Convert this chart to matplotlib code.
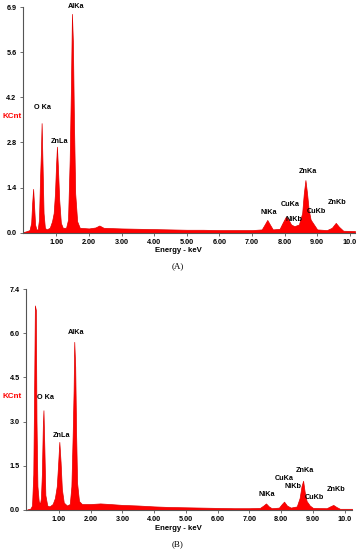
import numpy as np
import matplotlib
matplotlib.use("Agg")
from matplotlib import pyplot as plt

# spectrum A (energy keV, counts in KCnt)
energy_a = [0.0, 0.1, 0.18, 0.23, 0.26, 0.29, 0.32, 0.35, 0.39, 0.43, 0.47, 0.50, 0.53, 0.55,
            0.58, 0.61, 0.65, 0.70, 0.80, 0.87, 0.92, 0.96, 0.99, 1.02, 1.05, 1.09, 1.14,
            1.20, 1.30, 1.36, 1.41, 1.45, 1.48, 1.51, 1.54, 1.58, 1.64, 1.72, 2.0, 2.2,
            2.32, 2.45, 2.7, 3.0, 3.5, 4.0, 4.5, 5.0, 5.5, 6.0, 6.5, 7.0, 7.3, 7.39, 7.47,
            7.55, 7.64, 7.85, 7.94, 8.04, 8.12, 8.20, 8.30, 8.44, 8.54, 8.59, 8.64, 8.69,
            8.74, 8.80, 8.90, 9.0, 9.3, 9.45, 9.57, 9.67, 9.8, 10.16]
counts_a = [0.02, 0.05, 0.08, 0.3, 0.9, 1.34, 0.8, 0.25, 0.1, 0.1, 0.4, 1.6, 2.5, 3.35,
            2.0, 0.6, 0.15, 0.1, 0.15, 0.35, 0.6, 1.2, 2.0, 2.63, 2.0, 1.0, 0.3,
            0.15, 0.15, 0.4, 2.2, 4.5, 6.69, 5.8, 3.5, 1.2, 0.35, 0.15, 0.13, 0.16,
            0.22, 0.15, 0.14, 0.13, 0.12, 0.11, 0.10, 0.09, 0.09, 0.08, 0.08, 0.08, 0.10, 0.25, 0.39,
            0.25, 0.10, 0.12, 0.30, 0.49, 0.40, 0.25, 0.20, 0.25, 0.60, 1.2, 1.61, 1.2,
            0.7, 0.4, 0.25, 0.10, 0.08, 0.15, 0.30, 0.18, 0.06, 0.05]

# spectrum B
energy_b = [0.0, 0.1, 0.15, 0.19, 0.22, 0.24, 0.27, 0.29, 0.32, 0.36, 0.40, 0.43, 0.46, 0.49,
            0.51, 0.54, 0.57, 0.63, 0.70, 0.80, 0.87, 0.93, 0.97, 1.01, 1.05, 1.09, 1.15,
            1.25, 1.34, 1.39, 1.43, 1.46, 1.48, 1.51, 1.54, 1.57, 1.63, 1.72, 2.0, 2.3,
            2.6, 3.0, 3.5, 4.0, 4.5, 5.0, 5.5, 6.0, 6.5, 7.0, 7.33, 7.44, 7.52, 7.61, 7.7,
            7.93, 8.02, 8.09, 8.18, 8.3, 8.49, 8.58, 8.64, 8.69, 8.74, 8.80, 8.9, 9.0,
            9.43, 9.54, 9.64, 9.74, 9.85, 10.23]
counts_b = [0.02, 0.05, 0.15, 1.2, 4.4, 6.85, 6.7, 3.0, 0.8, 0.3, 0.2, 0.4, 1.2, 2.8,
            3.34, 2.0, 0.5, 0.15, 0.12, 0.2, 0.4, 0.8, 1.5, 2.28, 1.6, 0.7, 0.25,
            0.15, 0.2, 0.8, 2.5, 4.0, 5.63, 4.8, 2.5, 0.9, 0.3, 0.2, 0.2, 0.22,
            0.2, 0.17, 0.15, 0.12, 0.10, 0.09, 0.08, 0.07, 0.06, 0.06, 0.07, 0.15, 0.22, 0.12, 0.06,
            0.08, 0.2, 0.28, 0.15, 0.08, 0.12, 0.4, 0.8, 0.98, 0.6, 0.3, 0.15, 0.07,
            0.06, 0.12, 0.17, 0.10, 0.04, 0.04]

xticks = [1, 2, 3, 4, 5, 6, 7, 8, 9, 10]
xtick_labels = ["1.00", "2.00", "3.00", "4.00", "5.00", "6.00", "7.00", "8.00", "9.00", "10.0"]
ytick_labels_a = ["0.0", "1.4", "2.8", "4.2", "5.6", "6.9"]
ytick_labels_b = ["0.0", "1.5", "3.0", "4.5", "6.0", "7.4"]

lines = ["O Ka", "AlKa", "ZnLa", "NiKa", "CuKa", "NiKb", "ZnKa", "CuKb", "ZnKb"]
label_pos_a = [(0.58, 3.82), (1.60, 6.91), (1.09, 2.78), (7.50, 0.61), (8.18, 0.87),
               (8.30, 0.39), (8.71, 1.87), (8.98, 0.64), (9.62, 0.93)]
label_pos_b = [(0.56, 3.77), (1.54, 5.96), (1.09, 2.49), (7.56, 0.52), (8.10, 1.06),
               (8.38, 0.80), (8.75, 1.31), (9.03, 0.41), (9.73, 0.67)]

W, H = 357, 550
plt.rcParams['font.family'] = ['Liberation Sans', 'DejaVu Sans']
fig = plt.figure(figsize=(W / 100, H / 100), dpi=100)


def px(x0, y0, x1, y1):
	# pixel box (left, top, right, bottom) -> figure fraction rect
	return [x0 / W, 1 - y1 / H, (x1 - x0) / W, (y1 - y0) / H]


def panel(rect, energy, counts, ymax, ylabels, xmin, xmax, label_pos):
	ax = fig.add_axes(rect)
	ax.fill_between(energy, counts, 0, color='#ff0000', lw=0.5, edgecolor='#e00000')
	ax.set_xlim(xmin, xmax)
	ax.set_ylim(0, ymax)
	ax.set_yticks(np.linspace(0, ymax, 6))
	ax.set_yticklabels(ylabels)
	ax.set_xticks(xticks)
	ax.set_xticklabels(xtick_labels)
	for s in ['top', 'right']:
		ax.spines[s].set_visible(False)
	for s in ['left', 'bottom']:
		ax.spines[s].set_color('#555555')
		ax.spines[s].set_linewidth(0.8)
	ax.tick_params(axis='both', labelsize=5.2, length=2, width=0.6, color='#555555', pad=2.5)
	for t in ax.get_xticklabels() + ax.get_yticklabels():
		t.set_fontweight('bold')
	for name, (x, y) in zip(lines, label_pos):
		ax.text(x, y, name, fontsize=5.2, fontweight='bold', ha='center', va='center',
			clip_on=False)
	return ax


panel(px(22.7, 7, 355, 232.7), energy_a, counts_a, 6.9, ytick_labels_a, -0.03, 10.16, label_pos_a)
panel(px(26, 289, 352, 510), energy_b, counts_b, 7.4, ytick_labels_b, -0.04, 10.23, label_pos_b)

for yk, ye, ycap, cap in [(117, 250.5, 266, "(A)"), (397, 528.5, 544, "(B)")]:
	fig.text(12.3 / W, 1 - yk / H, "KCnt", color='#ff0000', fontsize=5.8, fontweight='bold',
		ha='center', va='center')
	fig.text(178 / W, 1 - ye / H, "Energy - keV", fontsize=5.6, fontweight='bold',
		ha='center', va='center')
	fig.text(178 / W, 1 - ycap / H, cap, fontsize=6.5, family='Liberation Serif',
		ha='center', va='center')

fig.savefig("out.png", dpi=100)
